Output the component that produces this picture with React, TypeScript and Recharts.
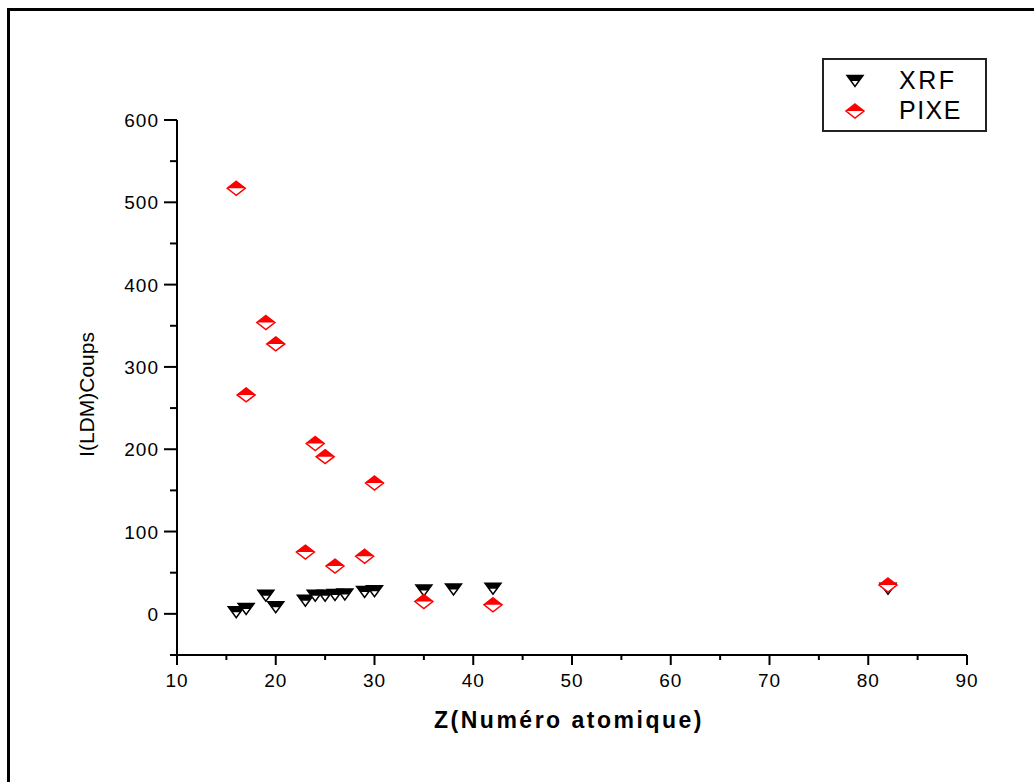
import { ScatterChart, Scatter, XAxis, YAxis, Label } from 'recharts'

const xrfZ = [16, 17, 19, 20, 23, 24, 25, 26, 27, 29, 30, 35, 38, 42, 82]
const xrfI = [2, 6, 22, 8, 16, 22, 22, 23, 23.5, 26.5, 27.5, 28.5, 29.5, 30.5, 30.5]

const pixeZ = [16, 17, 19, 20, 23, 24, 25, 26, 29, 30, 35, 42, 82]
const pixeI = [517, 266, 354, 328, 75, 207, 191, 58, 70, 159, 15, 11, 35]

const xTicks = [10, 15, 20, 25, 30, 35, 40, 45, 50, 55, 60, 65, 70, 75, 80, 85, 90]
const yTicks = [-50, 0, 50, 100, 150, 200, 250, 300, 350, 400, 450, 500, 550, 600]

const FONT = 'Liberation Sans, Arial, sans-serif'

const xrfData = xrfZ.map((z, k) => ({ z, i: xrfI[k] }))
const pixeData = pixeZ.map((z, k) => ({ z, i: pixeI[k] }))

function TriangleMark({ cx, cy }: any) {
  if (cx == null || cy == null) return null
  const w = 8
  const h = 5.5
  return (
    <g>
      <polygon
        points={`${cx - w},${cy - h} ${cx + w},${cy - h} ${cx},${cy + h}`}
        fill="#fff"
        stroke="#000"
        strokeWidth={1.5}
      />
      <polygon
        points={`${cx - w},${cy - h} ${cx + w},${cy - h} ${cx + w / 2},${cy} ${cx - w / 2},${cy}`}
        fill="#000"
      />
    </g>
  )
}

function DiamondMark({ cx, cy }: any) {
  if (cx == null || cy == null) return null
  const w = 9
  const h = 7
  return (
    <g>
      <polygon
        points={`${cx},${cy - h} ${cx + w},${cy} ${cx},${cy + h} ${cx - w},${cy}`}
        fill="#fff"
        stroke="#ff0000"
        strokeWidth={1.5}
      />
      <polygon points={`${cx},${cy - h} ${cx + w},${cy} ${cx - w},${cy}`} fill="#ff0000" />
    </g>
  )
}

function YTick({ x, y, payload }: any) {
  const major = payload.value % 100 === 0
  const len = major ? 13 : 7
  return (
    <g>
      <line x1={x - len} x2={x} y1={y} y2={y} stroke="#000" strokeWidth={2} />
      {major && (
        <text x={x - 18} y={y + 7} textAnchor="end" fontFamily={FONT} fontSize={19} letterSpacing={1} fill="#000">
          {payload.value}
        </text>
      )}
    </g>
  )
}

function XTick({ x, y, payload }: any) {
  const major = payload.value % 10 === 0
  const len = major ? 10 : 5
  return (
    <g>
      <line x1={x} x2={x} y1={y} y2={y + len} stroke="#000" strokeWidth={2} />
      {major && (
        <text x={x} y={y + 32} textAnchor="middle" fontFamily={FONT} fontSize={19} letterSpacing={1} fill="#000">
          {payload.value}
        </text>
      )}
    </g>
  )
}

function LegendBox() {
  return (
    <svg width={165} height={74} style={{ display: 'block' }}>
      <rect x={1} y={1} width={163} height={72} fill="#fff" stroke="#222" strokeWidth={2} />
      <TriangleMark cx={33} cy={23} />
      <text x={77} y={31} fontFamily={FONT} fontSize={25} letterSpacing={2.5} fill="#000">
        XRF
      </text>
      <DiamondMark cx={33} cy={53} />
      <text x={77} y={61} fontFamily={FONT} fontSize={25} letterSpacing={1.5} fill="#000">
        PIXE
      </text>
    </svg>
  )
}

export default function App() {
  return (
    <div
      style={{
        position: 'fixed',
        left: 0,
        top: 0,
        width: 1034,
        height: 782,
        overflow: 'hidden',
        background: '#fff',
      }}
    >
      <div
        style={{
          position: 'absolute',
          left: 7,
          top: 8,
          width: 1200,
          height: 1000,
          border: '3px solid #000',
        }}
      />
      <div style={{ position: 'absolute', left: 0, top: 0 }}>
        <ScatterChart width={1034} height={782} margin={{ top: 120, right: 67, bottom: 0, left: 0 }}>
          <XAxis
            type="number"
            dataKey="z"
            domain={[10, 90]}
            ticks={xTicks}
            interval={0}
            height={127}
            tickSize={0}
            tickMargin={0}
            tick={<XTick />}
            axisLine={{ stroke: '#000', strokeWidth: 2 }}
          >
            <Label
              content={({ viewBox }: any) => (
                <text
                  x={viewBox.x + viewBox.width / 2 - 3}
                  y={viewBox.y + 73}
                  textAnchor="middle"
                  fontFamily={FONT}
                  fontWeight="bold"
                  fontSize={23}
                  letterSpacing={2.5}
                  fill="#000"
                >
                  Z(Numéro atomique)
                </text>
              )}
            />
          </XAxis>
          <YAxis
            type="number"
            dataKey="i"
            domain={[-50, 600]}
            ticks={yTicks}
            interval={0}
            width={177}
            tickSize={0}
            tickMargin={0}
            tick={<YTick />}
            axisLine={{ stroke: '#000', strokeWidth: 2 }}
          >
            <Label
              content={({ viewBox }: any) => {
                const cx = 86
                const cy = viewBox.y + viewBox.height / 2 + 7
                return (
                  <text
                    x={cx}
                    y={cy}
                    transform={`rotate(-90 ${cx} ${cy})`}
                    textAnchor="middle"
                    dominantBaseline="central"
                    fontFamily={FONT}
                    fontSize={21}
                    fill="#000"
                  >
                    I(LDM)Coups
                  </text>
                )
              }}
            />
          </YAxis>
          <Scatter name="XRF" data={xrfData} shape={<TriangleMark />} isAnimationActive={false} />
          <Scatter name="PIXE" data={pixeData} shape={<DiamondMark />} isAnimationActive={false} />
        </ScatterChart>
      </div>
      <div style={{ position: 'absolute', left: 822, top: 58 }}>
        <LegendBox />
      </div>
    </div>
  )
}
